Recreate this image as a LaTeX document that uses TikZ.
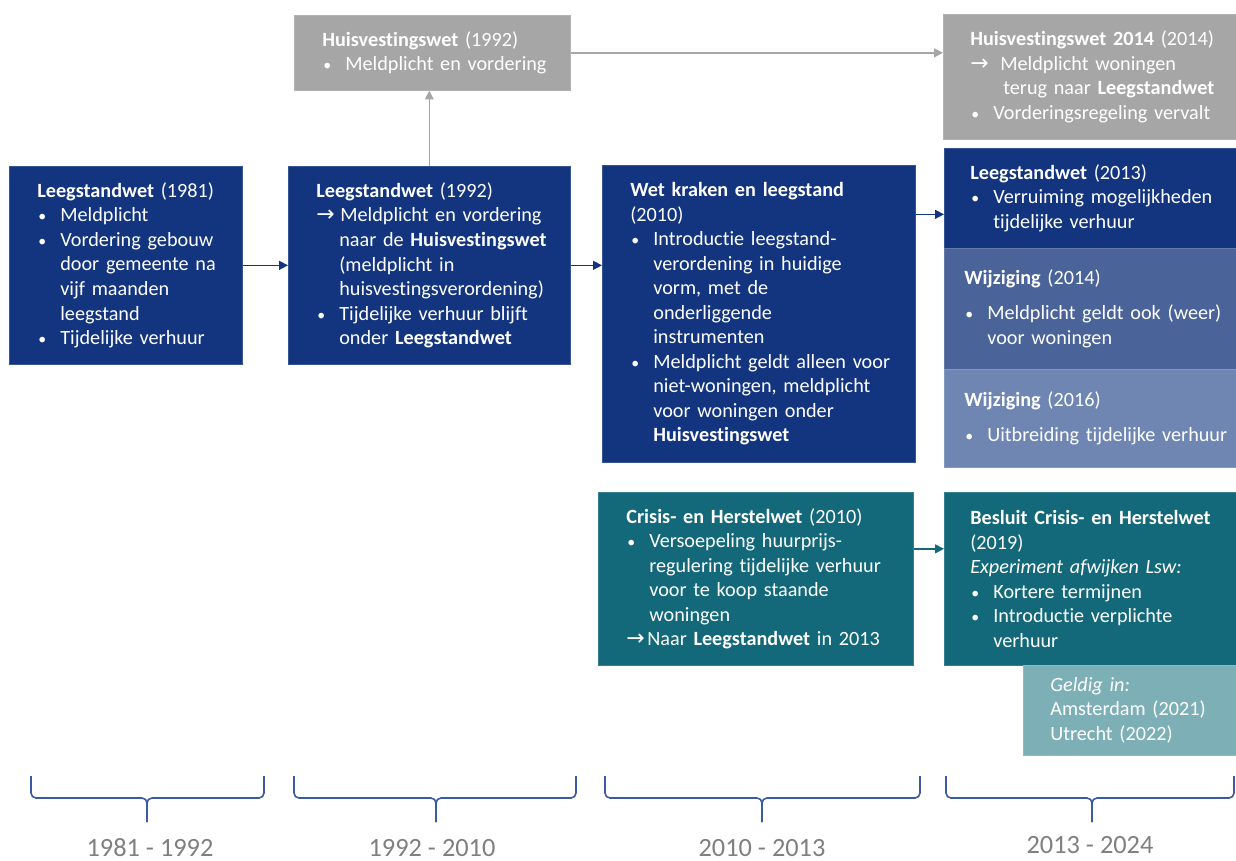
\documentclass[tikz,border=0pt]{standalone}
\usepackage{fontspec}
\setmainfont{Carlito}[Ligatures={NoCommon,NoRare}]
\newfontfamily\arrowfont{DejaVu Sans}
\usetikzlibrary{arrows.meta}
\definecolor{navyblue}{HTML}{13357F}
\definecolor{midblue}{HTML}{4A6398}
\definecolor{paleblue}{HTML}{6F86B3}
\definecolor{greybox}{HTML}{A6A6A6}
\definecolor{tealbox}{HTML}{13687A}
\definecolor{lightteal}{HTML}{7DAFB7}
\definecolor{bracecol}{HTML}{3A5BA0}
\definecolor{yeargrey}{HTML}{7F7F7F}
\newcommand{\lawbul}[1]{\makebox[0.46cm][l]{\hspace*{0.02cm}\fontsize{9}{9}\selectfont\textbullet}\mbox{#1}}
\newcommand{\lawcont}[2][0.46cm]{\hspace*{#1}\mbox{#2}}
\newcommand{\lawarr}[2][0.48cm]{\makebox[#1][l]{\arrowfont\fontsize{12.5}{12.5}\selectfont →}\mbox{#2}}
\begin{document}
\begin{tikzpicture}[x=0.02cm, y=-0.02cm, font=\fontsize{11.5}{13.95}\selectfont,
law node/.style={anchor=north west, fill=#1, draw=#1!85!white, line width=0.4pt, text=white, align=left, inner ysep=0pt},
link/.style={-{Triangle[length=5pt,width=5pt]}, line width=0.8pt, draw=#1},
year brace/.style={draw=bracecol, line width=0.9pt, rounded corners=0.1cm},
year node/.style={text=yeargrey, inner sep=1pt, font=\fontsize{15}{18}\selectfont}]
\useasboundingbox (0,0) rectangle (1236,861);
\begin{scope}
\node[law node=navyblue, minimum width=4.66cm, minimum height=3.96cm, text width=3.54cm, inner xsep=0.56cm] (lsw81) at (9,166) {\mbox{\textbf{Leegstandwet} (1981)}\\
\lawbul{Meldplicht}\\
\lawbul{Vordering gebouw}\\
\lawcont{door gemeente na}\\
\lawcont{vijf maanden}\\
\lawcont{leegstand}\\
\lawbul{Tijdelijke verhuur}};%1981
\node[law node=navyblue, minimum width=5.64cm, minimum height=3.96cm, text width=4.52cm, inner xsep=0.56cm] (lsw92) at (288,166) {\mbox{\textbf{Leegstandwet} (1992)}\\
\lawarr{Meldplicht en vordering}\\
\lawcont{naar de \textbf{Huisvestingswet}}\\
\lawcont{(meldplicht in}\\
\lawcont{huisvestingsverordening)}\\
\lawbul{Tijdelijke verhuur blijft}\\
\lawcont{onder \textbf{Leegstandwet}}};%1992
\node[law node=greybox, minimum width=5.52cm, minimum height=1.5cm, text width=4.4cm, inner xsep=0.56cm] (hvw92) at (294,15) {\mbox{\textbf{Huisvestingswet} (1992)}\\
\lawbul{Meldplicht en vordering}};%1992
\node[law node=navyblue, minimum width=6.26cm, minimum height=5.94cm, text width=5.14cm, inner xsep=0.56cm] (wkl10) at (602,165) {\mbox{\textbf{Wet kraken en leegstand}}\\
(2010)\\
\lawbul{Introductie leegstand-}\\
\lawcont{verordening in huidige}\\
\lawcont{vorm, met de}\\
\lawcont{onderliggende}\\
\lawcont{instrumenten}\\
\lawbul{Meldplicht geldt alleen voor}\\
\lawcont{niet-woningen, meldplicht}\\
\lawcont{voor woningen onder}\\
\lawcont{\textbf{Huisvestingswet}}};%2010
\node[law node=tealbox, minimum width=6.3cm, minimum height=3.46cm, text width=5.18cm, inner xsep=0.56cm] (chw10) at (598,492) {\mbox{\textbf{Crisis- en Herstelwet} (2010)}\\
\lawbul{Versoepeling huurprijs-}\\
\lawcont{regulering tijdelijke verhuur}\\
\lawcont{voor te koop staande}\\
\lawcont{woningen}\\
\lawarr[0.42cm]{Naar \textbf{Leegstandwet} in 2013}};%2010
\node[law node=greybox, minimum width=5.86cm, minimum height=2.5cm, text width=4.78cm, inner xsep=0.54cm] (hvw14) at (943,14) {\mbox{\textbf{Huisvestingswet 2014} (2014)}\\
\lawarr[0.6cm]{Meldplicht woningen}\\
\lawcont[0.66cm]{terug naar \textbf{Leegstandwet}}\\
\lawbul{Vorderingsregeling vervalt}};%2014
\node[law node=navyblue, minimum width=5.84cm, minimum height=2cm, text width=4.8cm, inner xsep=0.52cm] (lsw13) at (944,148) {\mbox{\textbf{Leegstandwet} (2013)}\\
\lawbul{Verruiming mogelijkheden}\\
\lawcont{tijdelijke verhuur}};%2013
\node[law node=midblue, minimum width=5.84cm, minimum height=2.42cm, text width=5.04cm, inner xsep=0.4cm] (wzg14) at (944,248) {\mbox{\textbf{Wijziging} (2014)}\\[0.21cm]
\lawbul{Meldplicht geldt ook (weer)}\\
\lawcont{voor woningen}};%2014
\node[law node=paleblue, minimum width=5.84cm, minimum height=1.96cm, text width=5.04cm, inner xsep=0.4cm] (wzg16) at (944,369) {\mbox{\textbf{Wijziging} (2016)}\\[0.21cm]
\lawbul{Uitbreiding tijdelijke verhuur}};%2016
\node[law node=tealbox, minimum width=5.84cm, minimum height=3.46cm, text width=4.8cm, inner xsep=0.52cm] (bchw19) at (944,492) {\mbox{\textbf{Besluit Crisis- en Herstelwet}}\\
(2019)\\
\mbox{\textit{Experiment afwijken Lsw:}}\\
\lawbul{Kortere termijnen}\\
\lawbul{Introductie verplichte}\\
\lawcont{verhuur}};%2019
\node[law node=lightteal, minimum width=4.26cm, minimum height=1.8cm, text width=3.18cm, inner xsep=0.54cm] (gldg) at (1023,665) {\mbox{\textit{Geldig in:}}\\
\mbox{Amsterdam (2021)}\\
\mbox{Utrecht (2022)}};%steden
\end{scope}
\begin{scope}
\draw[link=navyblue] (lsw81.east) -- (lsw81.east -| lsw92.west);
\draw[link=navyblue] (lsw92.east) -- (lsw92.east -| wkl10.west);
\draw[link=navyblue] ([yshift=-0.32cm]lsw13.west -| wkl10.east) -- ([yshift=-0.32cm]lsw13.west);
\draw[link=greybox] (lsw92.north) -- (lsw92.north |- hvw92.south);
\draw[link=greybox] (hvw92.east) -- (hvw92.east -| hvw14.west);
\draw[link=tealbox] ([yshift=0.6cm]chw10.east) -- ([yshift=0.6cm]chw10.east -| bchw19.west);
\end{scope}
% periodes
\draw[year brace] (31,776) |- (147,798) -- (147,822);
\draw[year brace] (264,776) |- (147,798) -- (147,822);
\draw[year brace] (294,776) |- (436,798) -- (436,822);
\draw[year brace] (576,776) |- (436,798) -- (436,822);
\draw[year brace] (605,776) |- (762,798) -- (762,822);
\draw[year brace] (920,776) |- (762,798) -- (762,822);
\draw[year brace] (946,776) |- (1092,798) -- (1092,822);
\draw[year brace] (1234,776) |- (1092,798) -- (1092,822);
\node[year node] (yr81) at (150,848) {1981 - 1992};
\node[year node] (yr92) at (432,848) {1992 - 2010};
\node[year node] (yr10) at (762,848) {2010 - 2013};
\node[year node] (yr13) at (1090,845) {2013 - 2024};
\end{tikzpicture}
\end{document}
